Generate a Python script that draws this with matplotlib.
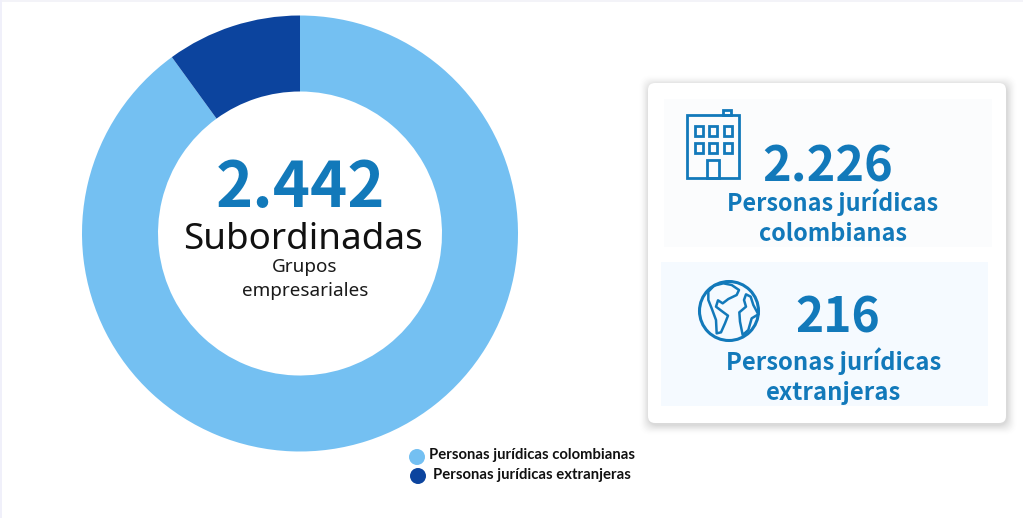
import matplotlib
matplotlib.use("Agg")
import matplotlib.pyplot as plt
from matplotlib.patches import FancyBboxPatch, Rectangle, Circle, Polygon

W, H = 1023, 518
slice_labels = ["Personas jurídicas colombianas", "Personas jurídicas extranjeras"]
slice_shares = [90, 10]
slice_colors = ["#74C0F2", "#0C449E"]
total_value = "2.442"
total_label = "Subordinadas"
sub_label = "Grupos\nempresariales"
card_values = ["2.226", "216"]
card_labels = ["Personas jurídicas\ncolombianas", "Personas jurídicas\nextranjeras"]

BLUE = "#1279BA"
HEAD = "Noto Sans"
BOLD = "Noto Sans CJK JP"
LEG = "Lato"

fig = plt.figure(figsize=(W / 100, H / 100), dpi=100, facecolor="white")
ov = fig.add_axes([0, 0, 1, 1], zorder=0)
ov.set_xlim(0, W); ov.set_ylim(H, 0); ov.axis("off")

ov.add_patch(Rectangle((0, 0), W, 2, fc="#F3F3F8", ec="none"))
ov.add_patch(Rectangle((0, 0), 1.5, H, fc="#F0F0FA", ec="none"))

cx, cy, R, r = 300, 233.5, 218, 142
pa = fig.add_axes([(cx - R) / W, 1 - (cy + R) / H, 2 * R / W, 2 * R / H], zorder=1)
pa.pie(slice_shares, colors=slice_colors, startangle=90, counterclock=False, radius=1,
       wedgeprops=dict(width=1 - r / R, linewidth=0))
pa.set_xlim(-1, 1); pa.set_ylim(-1, 1); pa.set_aspect("equal")

tx = fig.add_axes([0, 0, 1, 1], zorder=2)
tx.set_xlim(0, W); tx.set_ylim(H, 0); tx.axis("off"); tx.patch.set_alpha(0)

tx.text(300, 189, total_value, color=BLUE, fontsize=45.4, fontweight="bold", family=BOLD, ha="center", va="center")
tx.text(303, 240, total_label, color="#111111", fontsize=26.5, family=HEAD, ha="center", va="center")
tx.text(305, 279, sub_label, color="#1A1A1A", fontsize=13.6, family=HEAD, ha="center", va="center", linespacing=1.4)

for (y, tx_x, lab, col, mx) in zip((457, 476), (429, 433), slice_labels, slice_colors, (417, 418)):
    tx.add_patch(Circle((mx, y), 8, fc=col, ec="none"))
    tx.text(tx_x, y - 1.5, lab, color="#111111", fontsize=10.7, fontweight="bold", family=LEG, ha="left", va="center")

for i, a in zip(range(12, 0, -1), (0.004, 0.005, 0.007, 0.008, 0.01, 0.011, 0.012, 0.014, 0.015, 0.016, 0.018, 0.02)):
    tx.add_patch(FancyBboxPatch((648 - i * 0.8 + 1, 83 - i * 0.8 + 2), 358 + i * 1.6, 340 + i * 1.6,
                                boxstyle="round,pad=0,rounding_size=10", fc="black", ec="none", alpha=a))
tx.add_patch(FancyBboxPatch((648, 83), 358, 340, boxstyle="round,pad=0,rounding_size=7", fc="white", ec="none"))
tx.add_patch(Rectangle((664, 99), 328, 148, fc="#FBFCFD", ec="none"))
tx.add_patch(Rectangle((661, 262), 327, 144, fc="#F5FAFF", ec="none"))

tx.text(828, 166.5, card_values[0], color=BLUE, fontsize=35, fontweight="bold", family=BOLD, ha="center", va="center")
tx.text(833, 217, card_labels[0], color=BLUE, fontsize=16.8, fontweight="bold", family=BOLD, ha="center", va="center", linespacing=1.33)
tx.text(838, 318, card_values[1], color=BLUE, fontsize=34.5, fontweight="bold", family=BOLD, ha="center", va="center")
tx.text(834, 376, card_labels[1], color=BLUE, fontsize=17.2, fontweight="bold", family=BOLD, ha="center", va="center", linespacing=1.3)

lw = 2.0
def box(x0, y0, x1, y1):
    tx.add_patch(Rectangle((x0, y0), x1 - x0, y1 - y0, fc="none", ec=BLUE, lw=lw))
box(686.5, 114.5, 739, 178)
box(723, 109.5, 730.5, 114.5)
for yy in ((125.5, 135.5), (142.5, 152.5)):
    for xx in ((695, 703), (709, 717), (724, 731.5)):
        box(xx[0], yy[0], xx[1], yy[1])
box(707, 160, 718.5, 178)

tx.add_patch(Circle((729, 311), 29.5, fc="none", ec=BLUE, lw=2.2))
def z(pts):
    return [(640 + a / 3, 75 + b / 3) for a, b in pts]
amer = z([(205, 650), (222, 632), (250, 625), (275, 630), (297, 645), (290, 660), (265, 672), (248, 685),
          (234, 676), (228, 695), (245, 708), (264, 722), (255, 745), (243, 772), (230, 775), (228, 735), (215, 700), (205, 675)])
afr = z([(318, 658), (332, 665), (340, 690), (355, 718), (335, 730), (325, 765), (308, 780), (300, 740), (298, 712), (318, 695), (312, 675)])
for pts in (amer, afr):
    tx.add_patch(Polygon(pts, closed=True, fc="none", ec=BLUE, lw=1.8, joinstyle="round"))

fig.savefig("out.png", dpi=100, facecolor="white")
